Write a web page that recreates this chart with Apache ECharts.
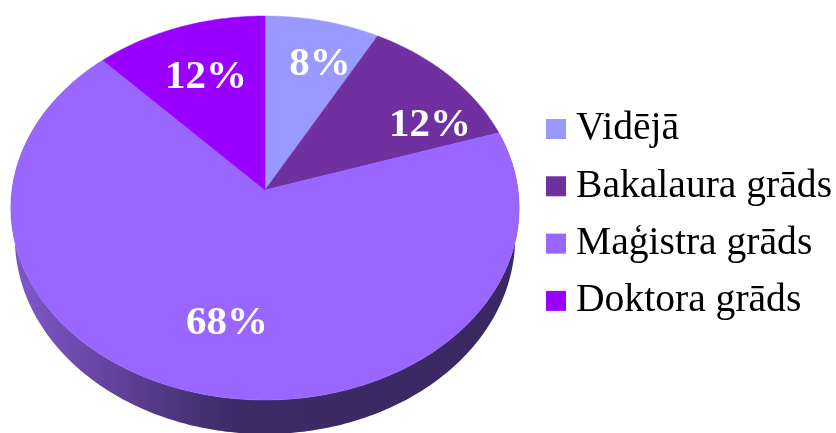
<!DOCTYPE html>
<html>

<head>
    <meta charset="utf-8">
    <title>ECharts</title>
    <script src="https://cdn.jsdelivr.net/npm/echarts@6/dist/echarts.min.js"></script>
    <style>
        html, body { margin: 0; padding: 0; background: #fff; }
    </style>
</head>

<body>
    <div id="main" style="width: 836px;height:433px;"></div>
</body>
<script type="text/javascript">
    // chart data
    var categories = ['Vidējā', 'Bakalaura grāds', 'Maģistra grāds', 'Doktora grāds'];
    var shares = [8, 12, 68, 12];
    var colors = ['#9999ff', '#7030a0', '#9966ff', '#9900ff'];

    // where each percent label sits, px from the apex of the pie
    var labelOffsets = [[55, -126], [165, -65], [-38, 133], [-59, -113]];

    // tilted pie: apex and radii of the top face (perspective, so apex is above the middle)
    var apexX = 265, apexY = 190;
    var radiusX = 253, radiusY = 190.3, tilt = -0.09375;
    // lower rim, scaled from the top rim ellipse
    var rimCx = 265, rimCy = 208, rimRy = 192;
    var lowerCy = 238, lowerScaleX = 250 / 254, lowerScaleY = 196 / 192;

    var total = shares.reduce(function (a, b) { return a + b; }, 0);

    // running start of each slice, in share units
    var starts = [];
    shares.reduce(function (sum, v, i) { starts[i] = sum; return sum + v; }, 0);

    function rimPoint(share) {
        var a = share / total * Math.PI * 2;
        var u = Math.sin(a), v = -Math.cos(a);
        var d = 1 + tilt * v;
        return [apexX + radiusX * u / d, apexY + radiusY * v / d];
    }

    function lowerPoint(p) {
        return [rimCx + (p[0] - rimCx) * lowerScaleX, lowerCy + (p[1] - rimCy) * lowerScaleY];
    }

    function arcPoints(from, to) {
        var pts = [];
        var steps = Math.ceil((to - from) * 4);
        for (var i = 0; i <= steps; i++) {
            pts.push(rimPoint(from + (to - from) * i / steps));
        }
        return pts;
    }

    function renderSlice(params, api) {
        var i = params.seriesIndex - 1;
        var pts = [[apexX, apexY]].concat(arcPoints(starts[i], starts[i] + api.value(0)));
        return {
            type: 'group',
            children: [{
                type: 'polygon',
                shape: { points: pts },
                style: { fill: colors[i], stroke: colors[i], lineWidth: 0.5 }
            }, {
                type: 'text',
                z2: 10,
                style: {
                    x: apexX + labelOffsets[i][0],
                    y: apexY + labelOffsets[i][1],
                    text: api.value(0) + '%',
                    fill: '#fff',
                    font: 'bold 41px "Liberation Serif"',
                    align: 'center',
                    verticalAlign: 'middle'
                }
            }]
        };
    }

    // side wall of the pie, only the big slice faces the viewer
    function renderWall(params, api) {
        var i = categories.length - 2;
        var top = arcPoints(starts[i], starts[i] + api.value(0));
        var bottom = top.map(lowerPoint).reverse();
        return {
            type: 'polygon',
            shape: { points: top.concat(bottom) },
            style: {
                fill: new echarts.graphic.LinearGradient(15, 0, 530, 0, [
                    { offset: 0, color: '#7d59c8' },
                    { offset: 0.18, color: '#6444a0' },
                    { offset: 0.33, color: '#4b3379' },
                    { offset: 0.43, color: '#3d2a66' },
                    { offset: 1, color: '#3a2862' }
                ], true)
            }
        };
    }

    var series = [{
        type: 'custom',
        coordinateSystem: 'none',
        silent: true,
        renderItem: renderWall,
        data: [[shares[2]]]
    }];
    categories.forEach(function (name, i) {
        series.push({
            name: name,
            type: 'custom',
            coordinateSystem: 'none',
            silent: true,
            itemStyle: { color: colors[i] },
            renderItem: renderSlice,
            data: [[shares[i]]]
        });
    });

    var myChart = echarts.init(document.getElementById('main'));
    var option = {
        animation: false,
        tooltip: { show: false },
        legend: {
            data: categories.map(function (name) { return { name: name, icon: 'rect' }; }),
            orient: 'vertical',
            left: 541,
            top: 104,
            itemWidth: 20,
            itemHeight: 20,
            itemGap: 17.3,
            selectedMode: false,
            textStyle: {
                color: '#000',
                fontFamily: 'Liberation Serif',
                fontSize: 39.6,
                padding: [0, 0, 0, 5]
            }
        },
        series: series
    };
    myChart.setOption(option);
</script>

</html>
